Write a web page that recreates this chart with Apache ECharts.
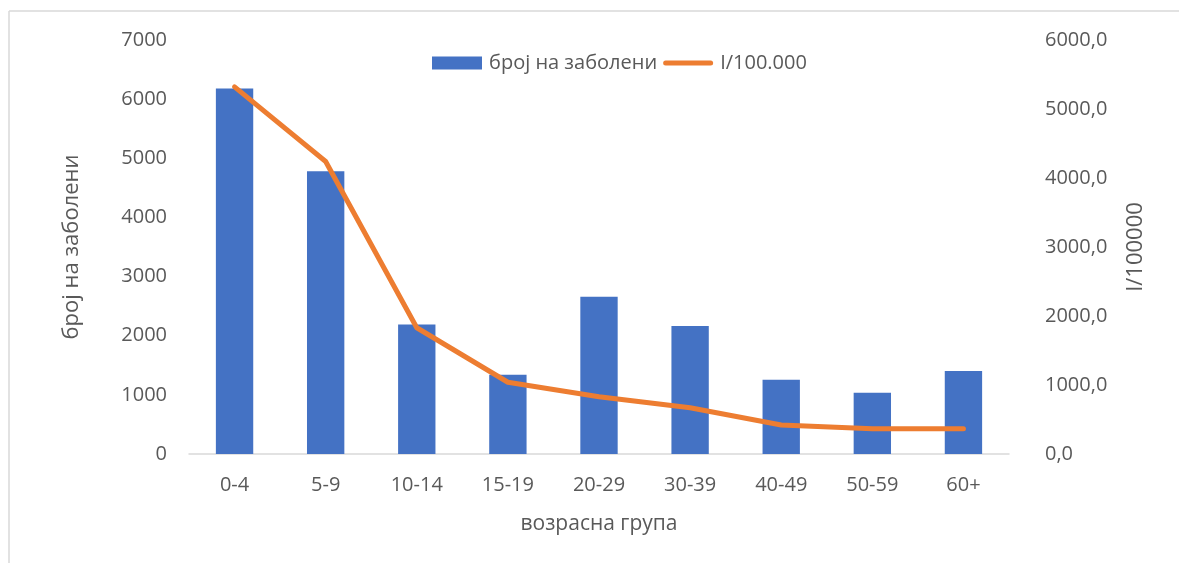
<!DOCTYPE html>
<html>
<head>
<meta charset="utf-8">
<script src="https://cdn.jsdelivr.net/npm/echarts@6/dist/echarts.min.js"></script>
<style>
html,body{margin:0;padding:0;background:#fff;}
#chart{width:1179px;height:563px;}
</style>
</head>
<body>
<div id="chart"></div>
<script>
const categories = ['0-4','5-9','10-14','15-19','20-29','30-39','40-49','50-59','60+'];
const cases = [6180, 4780, 2190, 1340, 2660, 2165, 1255, 1035, 1405];
const incidence = [5320, 4240, 1830, 1040, 830, 670, 420, 365, 365];
const leftTicks = {min: 0, max: 7000, interval: 1000};
const rightTicks = {min: 0, max: 6000, interval: 1000};

const FONT = '"Open Sans", "Noto Sans", sans-serif';
const TXT = '#595959';
const chart = echarts.init(document.getElementById('chart'));
chart.setOption({
  animation: false,
  backgroundColor: '#fff',
  textStyle: {fontFamily: FONT},
  graphic: [
    {type: 'line', shape: {x1: 9, y1: 11, x2: 1179, y2: 11}, style: {stroke: '#D9D9D9', lineWidth: 1.5}},
    {type: 'line', shape: {x1: 9, y1: 11, x2: 9, y2: 563}, style: {stroke: '#D9D9D9', lineWidth: 1.5}}
  ],
  legend: {
    left: 427, top: 48,
    itemWidth: 50, itemHeight: 13, itemGap: 6, symbolKeepAspect: true,
    textStyle: {color: TXT, fontSize: 20, fontFamily: FONT, padding: [0, 0, 0, 2]},
    data: [
      {name: 'број на заболени', icon: 'rect'},
      {name: 'I/100.000', icon: 'path://M2.5,0 H47.5 A2.5,2.5 0 0 1 47.5,5 H2.5 A2.5,2.5 0 0 1 2.5,0 Z'}
    ]
  },
  grid: {left: 189, right: 170, top: 40, bottom: 109},
  xAxis: {
    type: 'category', data: categories,
    name: 'возрасна група', nameLocation: 'middle', nameGap: 60,
    nameTextStyle: {color: TXT, fontSize: 21},
    axisLine: {lineStyle: {color: '#D9D9D9', width: 1.5}},
    axisTick: {show: false},
    axisLabel: {color: TXT, fontSize: 20, margin: 21}
  },
  yAxis: [
    {
      type: 'value', min: leftTicks.min, max: leftTicks.max, interval: leftTicks.interval,
      name: 'број на заболени', nameLocation: 'middle', nameGap: 106, nameRotate: 90,
      nameTextStyle: {color: TXT, fontSize: 22},
      axisLine: {show: false}, axisTick: {show: false}, splitLine: {show: false},
      axisLabel: {color: TXT, fontSize: 20, margin: 22, formatter: v => String(v)}
    },
    {
      type: 'value', min: rightTicks.min, max: rightTicks.max, interval: rightTicks.interval,
      name: 'I/100000', nameLocation: 'middle', nameGap: 116, nameRotate: 90,
      nameTextStyle: {color: TXT, fontSize: 22},
      axisLine: {show: false}, axisTick: {show: false}, splitLine: {show: false},
      axisLabel: {color: TXT, fontSize: 20, margin: 36,
        formatter: v => v.toFixed(1).replace('.', ',')}
    }
  ],
  series: [
    {
      name: 'број на заболени', type: 'bar', data: cases, yAxisIndex: 0,
      barWidth: '41%', itemStyle: {color: '#4472C4'}
    },
    {
      name: 'I/100.000', type: 'line', data: incidence, yAxisIndex: 1,
      symbol: 'none', lineStyle: {color: '#ED7D31', width: 5, cap: 'round', join: 'round'},
      itemStyle: {color: '#ED7D31'}
    }
  ]
});
</script>
</body>
</html>
